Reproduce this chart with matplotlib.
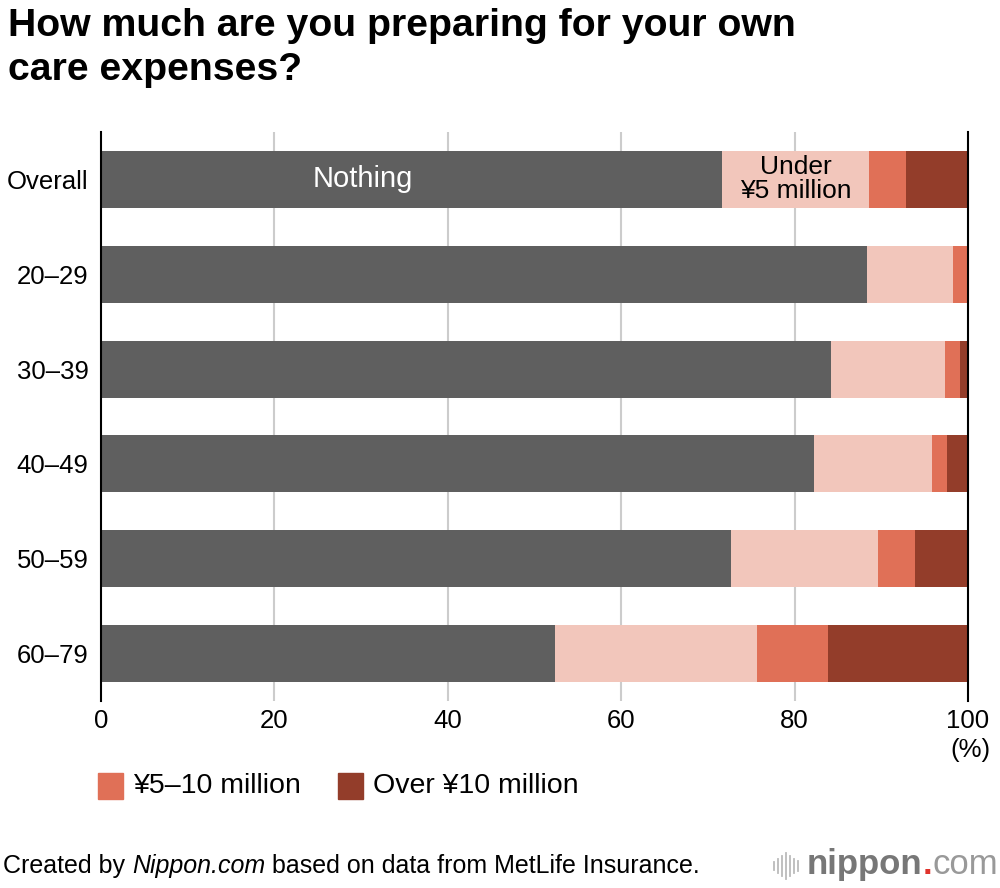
import matplotlib
matplotlib.use("Agg")
import matplotlib.pyplot as plt
from matplotlib.patches import Rectangle
import numpy as np

plt.rcParams['font.family'] = ['Liberation Sans', 'DejaVu Sans']

categories = ["Overall", "20–29", "30–39", "40–49", "50–59", "60–79"]
nothing = [71.6, 88.4, 84.2, 82.2, 72.7, 52.4]
under5 = [17.0, 9.9, 13.1, 13.6, 16.9, 23.3]
m5_10 = [4.2, 1.7, 1.8, 1.8, 4.3, 8.2]
over10 = [7.2, 0.0, 0.9, 2.4, 6.1, 16.1]
series_names = ["Nothing", "Under ¥5 million", "¥5–10 million", "Over ¥10 million"]
colors = ["#5f5f5f", "#f2c6bb", "#e07057", "#933d2a"]
xticks = [0, 20, 40, 60, 80, 100]

fig = plt.figure(figsize=(10, 8.88), dpi=100)
ax = fig.add_axes([0.101, 1 - 701 / 888, 0.867, (701 - 132) / 888])

y = np.arange(len(categories))
left = np.zeros(len(categories))
for vals, col, name in zip([nothing, under5, m5_10, over10], colors, series_names):
    ax.barh(y, vals, left=left, height=0.6, color=col, label=name, zorder=3)
    left += np.array(vals)

ax.set_xlim(0, 100)
ax.set_ylim(5.5, -0.5)
ax.set_xticks(xticks)
ax.set_xticklabels([str(t) for t in xticks], fontsize=18.5)
ax.set_yticks(y)
ax.set_yticklabels(categories, fontsize=18.5)
ax.tick_params(axis='x', length=0, pad=6)
ax.tick_params(axis='y', length=0, pad=9)
for t in xticks[1:-1]:
    ax.axvline(t, color="#cccccc", lw=1.5, zorder=1)
for s in ["top", "bottom"]:
    ax.spines[s].set_visible(False)
for s in ["left", "right"]:
    ax.spines[s].set_color("black")
    ax.spines[s].set_linewidth(1.5)
    ax.spines[s].set_zorder(4)

# in-bar labels
ax.text(30.2, 0, "Nothing", color="white", fontsize=21, ha="center", va="center", zorder=5)
ax.text(nothing[0] + under5[0] / 2, 0, "Under\n¥5 million", color="black", fontsize=19,
        ha="center", va="center", linespacing=1.0, zorder=5)

fig.text(0.99, 1 - 750 / 888, "(%)", fontsize=18.5, ha="right", va="center")

# title
fig.text(0.008, 1 - 8 / 888, "How much are you preparing for your own\ncare expenses?",
         fontsize=28.3, fontweight="bold", ha="left", va="top", linespacing=1.3)

# legend
leg_items = [(98, "¥5–10 million", colors[2]), (338, "Over ¥10 million", colors[3])]
for x0, lab, col in leg_items:
    fig.patches.append(Rectangle((x0 / 1000, 1 - 799 / 888), 25 / 1000, 26 / 888,
                                 transform=fig.transFigure, color=col))
    fig.text((x0 + 35) / 1000, 1 - 786 / 888, lab, fontsize=20.5, ha="left", va="center")

# footer
yf = 1 - 866 / 888
t1 = fig.text(0.003, yf, "Created by ", fontsize=18, ha="left", va="center")
fig.canvas.draw()
r = fig.canvas.get_renderer()
bb = t1.get_window_extent(r)
t2 = fig.text(bb.x1 / 1000, yf, "Nippon.com", fontsize=18, style="italic", ha="left", va="center")
bb = t2.get_window_extent(r)
fig.text(bb.x1 / 1000, yf, " based on data from MetLife Insurance.", fontsize=18, ha="left", va="center")

# logo
heights = [8, 14, 20, 26, 20, 14, 10]
for i, h in enumerate(heights):
    xx = (774 + i * 4) / 1000
    fig.lines.append(plt.Line2D([xx, xx], [yf - h / 2 / 888, yf + h / 2 / 888],
                                transform=fig.transFigure, color="#bbbbbb", lw=1.3))
l1 = fig.text(0.807, yf + 0.002, "nippon", fontsize=25, fontweight="bold", color="#777777",
              ha="left", va="center")
bb = l1.get_window_extent(r)
l2 = fig.text(bb.x1 / 1000, yf + 0.002, ".", fontsize=25, fontweight="bold", color="#e0332c",
              ha="left", va="center")
bb = l2.get_window_extent(r)
fig.text(bb.x1 / 1000, yf + 0.002, "com", fontsize=25, color="#999999", ha="left", va="center")

fig.savefig("out.png", dpi=100, facecolor="white")
